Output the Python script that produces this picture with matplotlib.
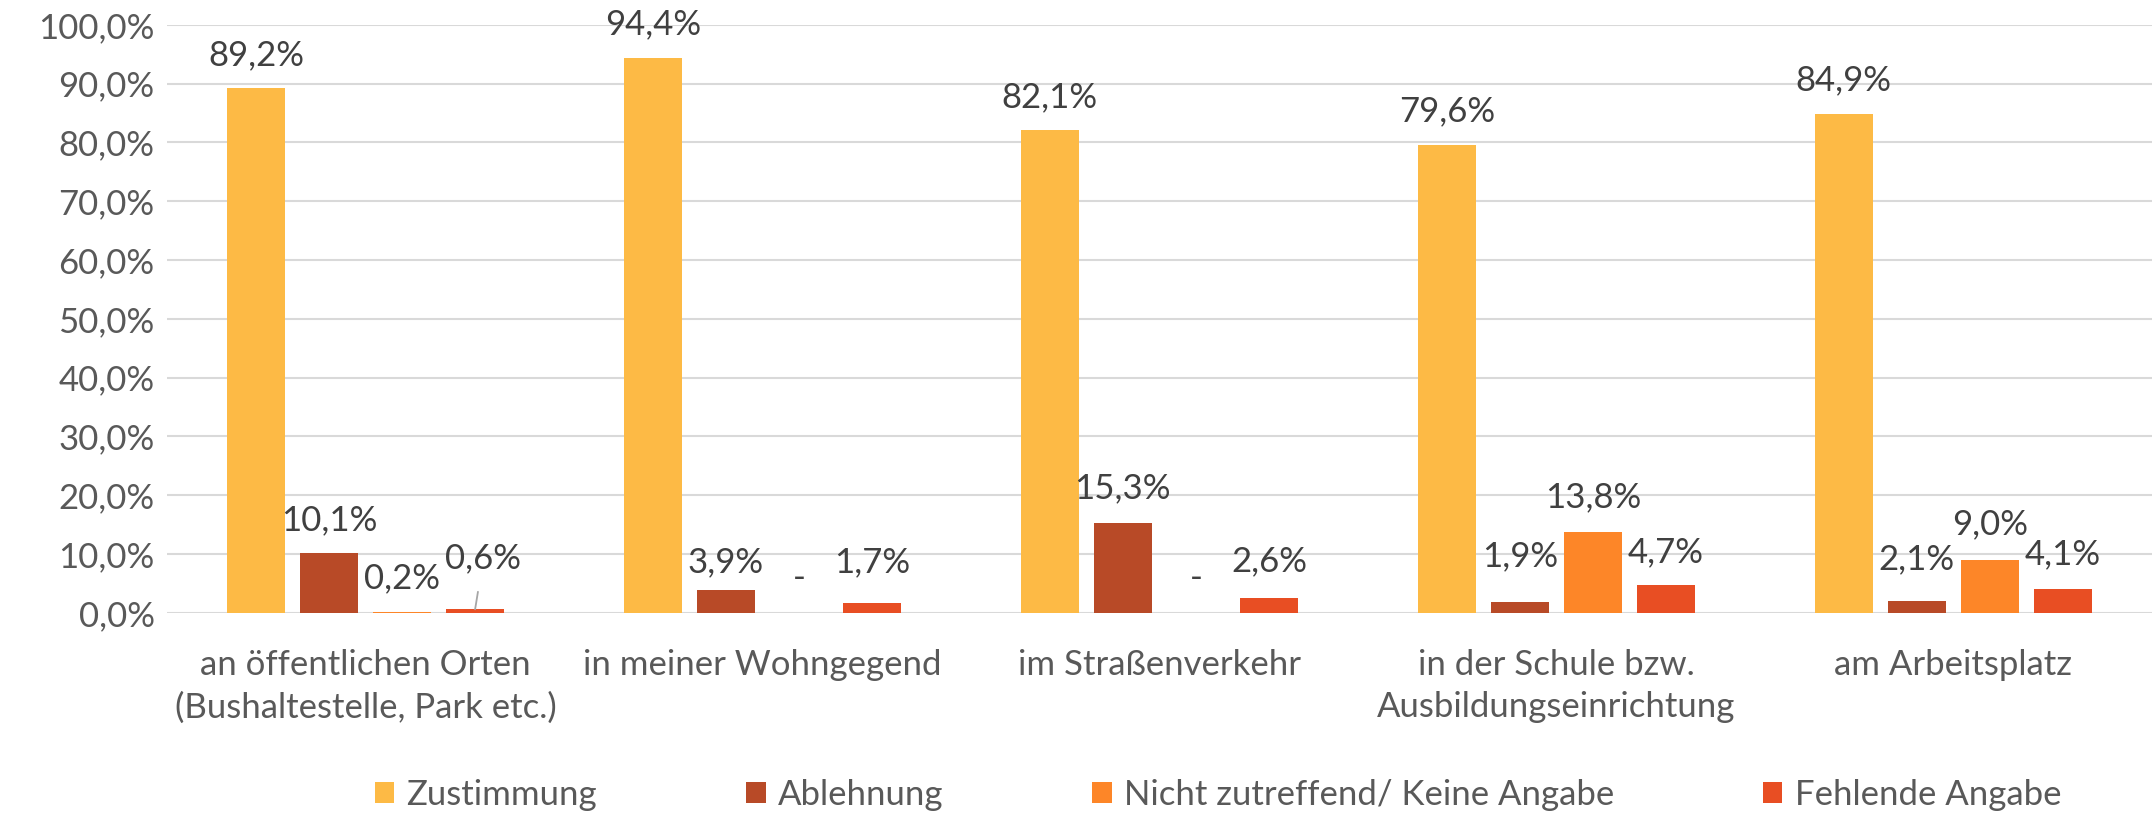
import matplotlib
matplotlib.use("Agg")
import matplotlib.pyplot as plt
import numpy as np

categories = ["an öffentlichen Orten\n(Bushaltestelle, Park etc.)",
              "in meiner Wohngegend",
              "im Straßenverkehr",
              "in der Schule bzw.\nAusbildungseinrichtung",
              "am Arbeitsplatz"]
series_names = ["Zustimmung", "Ablehnung", "Nicht zutreffend/ Keine Angabe", "Fehlende Angabe"]
zustimmung = [89.2, 94.4, 82.1, 79.6, 84.9]
ablehnung = [10.1, 3.9, 15.3, 1.9, 2.1]
nicht_zutreffend = [0.2, 0.0, 0.0, 13.8, 9.0]
fehlende = [0.6, 1.7, 2.6, 4.7, 4.1]
yticks = [0, 10, 20, 30, 40, 50, 60, 70, 80, 90, 100]

colors = ["#FDBA45", "#B84A27", "#FD8628", "#E84E23"]
FONT = ["Lato", "DejaVu Sans"]
plt.rcParams['font.family'] = FONT
FS = 25

fig = plt.figure(figsize=(21.56, 8.15), dpi=100)
ax = fig.add_axes([0.0775, 0.248, 0.9205, 0.7215])

series = [zustimmung, ablehnung, nicht_zutreffend, fehlende]
pitch = 0.184
width = 0.146
x = np.arange(len(categories))

def fmt(v):
    if v == 0:
        return "-"
    return f"{v:.1f}%".replace(".", ",")

# label offsets in points (style): (dx, dy)
default_dy = 24
label_offsets = {
    (2, 0): (0, 24), (3, 0): (6, 37),
    (1, 1): (0, 20), (2, 1): (0, 25), (3, 1): (0, 29),
    (1, 2): (0, 25), (2, 2): (0, 25), (3, 2): (0, 26),
    (1, 3): (0, 33), (2, 3): (0, 25), (3, 3): (0, 24),
    (1, 4): (0, 30), (2, 4): (0, 26), (3, 4): (0, 25),
}
for j, vals in enumerate(series):
    pos = x + (j - 1.5) * pitch
    ax.bar(pos, vals, width=width, color=colors[j], label=series_names[j], zorder=3)
    for i, v in enumerate(vals):
        dx, dy = label_offsets.get((j, i), (0, default_dy))
        txt = fmt(v)
        kw = dict(xy=(pos[i], v), xytext=(dx, dy), textcoords="offset points",
                  ha="center", va="center", fontsize=FS, color="#404040", zorder=5)
        if (j, i) == (3, 0):
            kw["arrowprops"] = dict(arrowstyle="-", color="#A6A6A6", lw=1.3,
                                    shrinkA=11, shrinkB=0)
        ax.annotate(txt, **kw)

ax.set_xlim(-0.5, len(categories) - 0.5)
ax.set_ylim(0, 100)
ax.set_yticks(yticks)
ax.set_yticklabels([f"{t:.1f}%".replace(".", ",") for t in yticks], fontsize=FS, color="#595959")
ax.set_xticks(x)
ax.set_xticklabels(categories, fontsize=FS, color="#595959", linespacing=1.4)
ax.tick_params(axis="both", length=0)
ax.tick_params(axis="x", pad=26)
ax.tick_params(axis="y", pad=9)
ax.yaxis.grid(True, color="#D9D9D9", lw=1.5, zorder=0)
for s in ax.spines.values():
    s.set_visible(False)

handles, labels = ax.get_legend_handles_labels()
fig.legend(handles, labels, loc="center", bbox_to_anchor=(0.565, 0.025), ncol=4,
           frameon=False, fontsize=FS, labelcolor="#595959", handlelength=0.55,
           handleheight=0.55, handletextpad=0.35, columnspacing=4.3,
           borderpad=0, borderaxespad=0)

fig.savefig("out.png", dpi=100)
